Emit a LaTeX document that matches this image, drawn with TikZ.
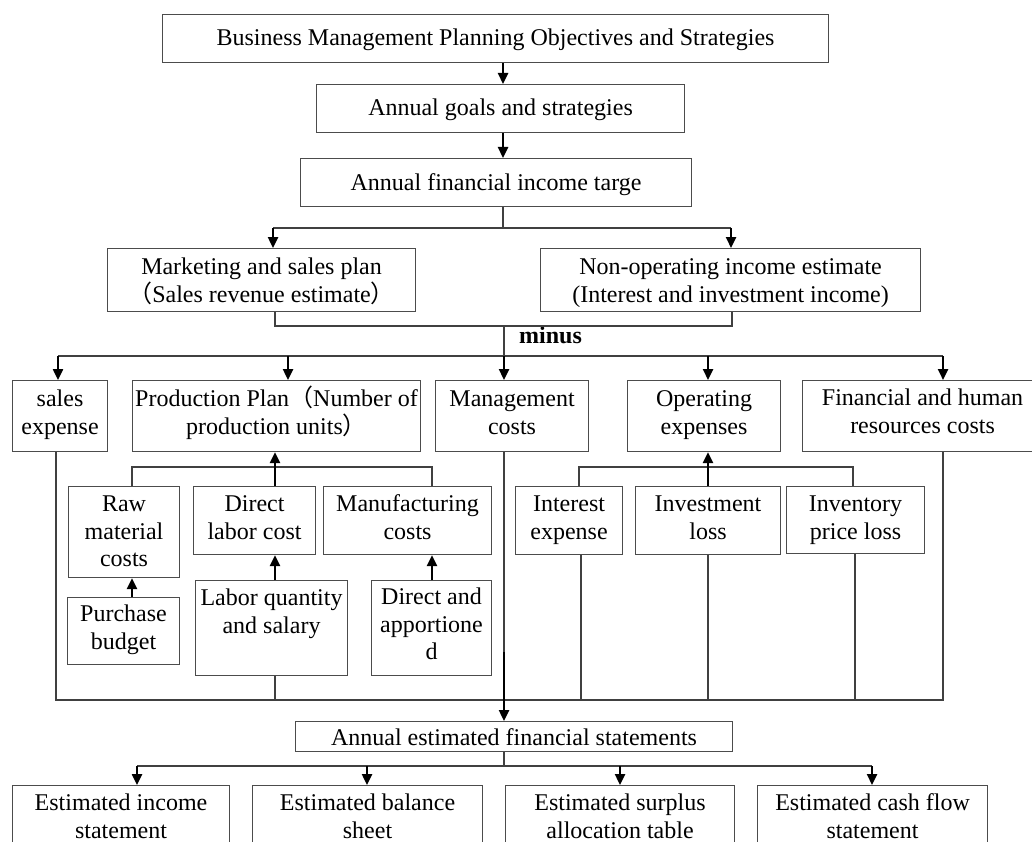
\documentclass[tikz,border=0pt]{standalone}
\usepackage{fontspec}
\setmainfont{Liberation Serif}
\newfontfamily\cjk{Noto Sans CJK SC}
\usetikzlibrary{arrows.meta}
\newcommand\lc[1]{\makebox[0pt]{#1}}
\newcommand\fw[1]{{\cjk #1}}
\newcommand\mybox[7]{\node[box,anchor=north west] (#1) at (#2,#3) {\parbox[c][#5pt][t]{#4pt}{\centering\rule{0pt}{#6pt}#7\par}};}
\begin{document}
\begin{tikzpicture}[x=1pt,y=-1pt,
  box/.style={draw=black!70,line width=1.1pt,inner sep=0pt,rectangle,font=\fontsize{24}{27.7}\selectfont},
  ln/.style={draw=black!75,line width=1.1pt},
  arr/.style={draw=black,line width=2.4pt,-{Triangle[length=11pt,width=10pt]}}]
\useasboundingbox (0,0) rectangle (1032,842);

% boxes
\mybox{top}{162}{14}{666}{48}{31}{\lc{Business Management Planning Objectives and Strategies}}
\mybox{goals}{316}{84}{368}{48}{31}{\lc{Annual goals and strategies}}
\mybox{target}{300}{158}{391}{48}{32}{\lc{Annual financial income targe}}
\mybox{mkt}{107}{248}{308}{63}{26}{\lc{Marketing and sales plan}\\\lc{\fw{（}Sales revenue estimate\fw{）}}}
\mybox{nonop}{540}{248}{380}{63}{26}{\lc{Non-operating income estimate}\\\lc{(Interest and investment income)}}
\mybox{sales}{12}{380}{95}{71}{26}{\lc{sales}\\\lc{expense}}
\mybox{prod}{132}{380}{288}{71}{26}{\lc{Production Plan\fw{（}Number of}\\\lc{production units\fw{）}}}
\mybox{mgmt}{435}{380}{153}{71}{26}{\lc{Management}\\\lc{costs}}
\mybox{opex}{627}{380}{153}{71}{26}{\lc{Operating}\\\lc{expenses}}
\mybox{fin}{802}{380}{240}{71}{25}{\lc{Financial and human}\\\lc{resources costs}}
\mybox{raw}{68}{486}{111}{91}{25}{\lc{Raw}\\\lc{material}\\\lc{costs}}
\mybox{dlc}{193}{486}{122}{68}{25}{\lc{Direct}\\\lc{labor cost}}
\mybox{mfg}{323}{486}{168}{68}{25}{\lc{Manufacturing}\\\lc{costs}}
\mybox{purch}{67}{597}{112}{67}{24}{\lc{Purchase}\\\lc{budget}}
\mybox{labor}{195}{580}{152}{95}{25}{\lc{Labor quantity}\\\lc{and salary}}
\mybox{dapp}{371}{580}{120}{95}{24}{\lc{Direct and}\\\lc{apportione}\\\lc{d}}
\mybox{intexp}{515}{486}{107}{68}{25}{\lc{Interest}\\\lc{expense}}
\mybox{invl}{635}{486}{145}{68}{25}{\lc{Investment}\\\lc{loss}}
\mybox{invp}{786}{486}{138}{67}{25}{\lc{Inventory}\\\lc{price loss}}
\mybox{annual}{295}{721}{437}{30}{24}{\lc{Annual estimated financial statements}}
\mybox{est1}{12}{785}{217}{70}{25}{\lc{Estimated income}\\\lc{statement}}
\mybox{est2}{252}{785}{230}{70}{25}{\lc{Estimated balance}\\\lc{sheet}}
\mybox{est3}{505}{785}{229}{70}{25}{\lc{Estimated surplus}\\\lc{allocation table}}
\mybox{est4}{757}{785}{230}{70}{25}{\lc{Estimated cash flow}\\\lc{statement}}

\node[font=\fontsize{24}{27.7}\selectfont\bfseries,anchor=base west,inner sep=0pt] (minus) at (519,343) {minus};

% top chain
\coordinate (cA) at (503,0);
\draw[arr] (top.south -| cA) -- (goals.north -| cA);
\draw[arr] (goals.south -| cA) -- (target.north -| cA);
\coordinate (j1) at (503,228);
\coordinate (j1l) at (273,228);
\coordinate (j1r) at (731,228);
\draw[ln] (target.south -| j1) -- (j1);
\draw[ln] (j1l) -- (j1r);
\draw[arr] (j1l) -- (mkt.north -| j1l);
\draw[arr] (j1r) -- (nonop.north -| j1r);

% merge and distribute
\coordinate (j2l) at (275,326);
\coordinate (j2r) at (732,326);
\coordinate (j2m) at (504,326);
\coordinate (j3m) at (504,356);
\coordinate (j3a) at (58,356);
\coordinate (j3b) at (288,356);
\coordinate (j3d) at (708,356);
\coordinate (j3e) at (943,356);
\draw[ln] (mkt.south -| j2l) -- (j2l) -- (j2r) -- (nonop.south -| j2r);
\draw[ln] (j2m) -- (j3m);
\draw[ln] (j3a) -- (j3e);
\draw[arr] (j3a) -- (sales.north -| j3a);
\draw[arr] (j3b) -- (prod.north -| j3b);
\draw[arr] (j3m) -- (mgmt.north -| j3m);
\draw[arr] (j3d) -- (opex.north -| j3d);
\draw[arr] (j3e) -- (fin.north -| j3e);

% production sub-tree
\coordinate (k1l) at (132,467);
\coordinate (k1r) at (432,467);
\coordinate (k1m) at (275,467);
\draw[ln] (raw.north -| k1l) -- (k1l) -- (k1r) -- (mfg.north -| k1r);
\draw[arr] (dlc.north -| k1m) -- (prod.south -| k1m);
\draw[arr] (purch.north -| k1l) -- (raw.south -| k1l);
\draw[arr] (labor.north -| k1m) -- (dlc.south -| k1m);
\draw[arr] (dapp.north -| k1r) -- (mfg.south -| k1r);

% operating sub-tree
\coordinate (o1l) at (579,467);
\coordinate (o1r) at (853,467);
\coordinate (o1m) at (708,467);
\draw[ln] (intexp.north -| o1l) -- (o1l) -- (o1r) -- (invp.north -| o1r);
\draw[arr] (invl.north -| o1m) -- (opex.south -| o1m);

% collection line
\coordinate (b1) at (56,700);
\coordinate (b2) at (275,700);
\coordinate (b4) at (581,700);
\coordinate (b5) at (708,700);
\coordinate (b6) at (855,700);
\coordinate (b7) at (943,700);
\draw[ln] (sales.south -| b1) -- (b1) -- (b7) -- (fin.south -| b7);
\draw[ln] (labor.south -| b2) -- (b2);
\draw[ln] (intexp.south -| b4) -- (b4);
\draw[ln] (invl.south -| b5) -- (b5);
\draw[ln] (invp.south -| b6) -- (b6);
\coordinate (mk) at (504,652);
\draw[ln] (mgmt.south -| mk) -- (mk);
\draw[arr] (mk) -- (annual.north -| mk);

% statements
\coordinate (q0) at (504,766);
\coordinate (q1) at (137,766);
\coordinate (q2) at (367,766);
\coordinate (q3) at (620,766);
\coordinate (q4) at (872,766);
\draw[ln] (annual.south -| q0) -- (q0);
\draw[ln] (q1) -- (q4);
\draw[arr] (q1) -- (est1.north -| q1);
\draw[arr] (q2) -- (est2.north -| q2);
\draw[arr] (q3) -- (est3.north -| q3);
\draw[arr] (q4) -- (est4.north -| q4);
\end{tikzpicture}
\end{document}
